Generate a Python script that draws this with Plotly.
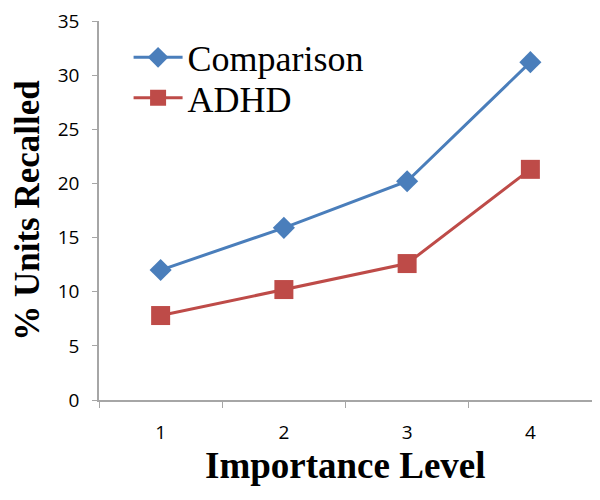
import plotly.graph_objects as go

levels = ["1", "2", "3", "4"]
comparison = [12.0, 15.9, 20.2, 31.2]
adhd = [7.8, 10.2, 12.6, 21.3]
y_ticks = [0, 5, 10, 15, 20, 25, 30, 35]

fig = go.Figure()
fig.add_trace(go.Scatter(
    x=levels, y=comparison, name="Comparison", mode="lines+markers",
    line=dict(color="#4a7ebb", width=3),
    marker=dict(symbol="diamond", size=17, color="#4a7ebb"),
    legend="legend",
))
fig.add_trace(go.Scatter(
    x=levels, y=adhd, name="ADHD", mode="lines+markers",
    line=dict(color="#be4b48", width=3),
    marker=dict(symbol="square", size=19, color="#be4b48"),
    legend="legend2",
))

legend_style = dict(
    xanchor="left", yanchor="middle",
    font=dict(family="Liberation Serif", size=36, color="black"),
    bgcolor="rgba(0,0,0,0)", itemwidth=49,
)

fig.update_layout(
    width=600, height=500,
    margin=dict(l=91, r=16, t=13, b=108, autoexpand=False),
    paper_bgcolor="white", plot_bgcolor="white",
    showlegend=True,
    legend=dict(x=0.06, y=0.904, **legend_style),
    legend2=dict(x=0.06, y=0.797, **legend_style),
    xaxis=dict(
        type="category", range=[-0.5, 3.5], automargin=False,
        showgrid=False, showline=True, linecolor="#a6a6a6", linewidth=1.5,
        ticks="outside", tickson="boundaries", ticklen=6, tickcolor="#a6a6a6",
        tickfont=dict(family="Open Sans", size=19, color="black"),
        ticklabelstandoff=14,
    ),
    yaxis=dict(
        range=[0, 35], tickvals=y_ticks, automargin=False,
        showgrid=False, showline=True, linecolor="#a6a6a6", linewidth=1.5,
        ticks="outside", ticklen=5, tickcolor="#a6a6a6",
        tickfont=dict(family="Open Sans", size=19, color="black"),
        ticklabelstandoff=9, ticklabeloverflow="allow",
        zeroline=False,
        title=dict(text="<b>% Units Recalled</b>",
                   font=dict(family="Liberation Serif", size=35, color="black"),
                   standoff=26),
    ),
    annotations=[dict(
        text="<b>Importance Level</b>", xref="paper", yref="paper",
        x=0.5, y=-0.173, xanchor="center", yanchor="middle", showarrow=False,
        font=dict(family="Liberation Serif", size=37, color="black"),
    )],
)

fig.write_html("out.html")
